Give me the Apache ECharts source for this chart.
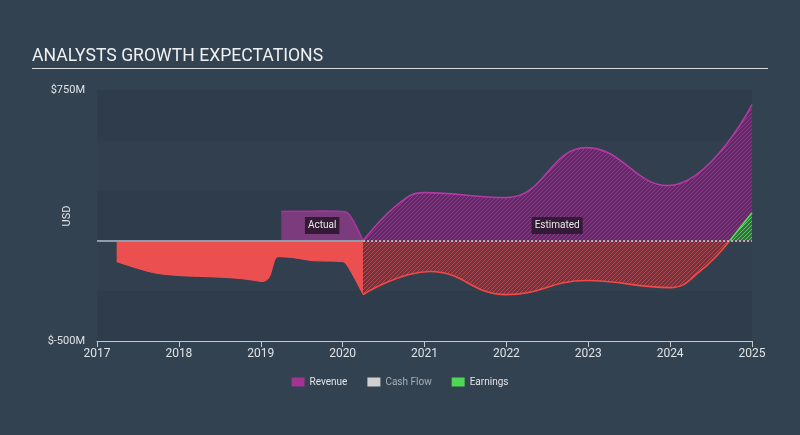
<!DOCTYPE html>
<html>
<head>
<meta charset="utf-8">
<script src="https://cdn.jsdelivr.net/npm/echarts@6/dist/echarts.min.js"></script>
<style>
html,body{margin:0;padding:0;background:#334251;}
#c{width:800px;height:435px;}
</style>
</head>
<body>
<div id="c"></div>
<script>
// ---- data (values in $M, x in fractional years) ----
const xTicks = [2017, 2025];
const yTicks = [-500, 750];
const revenueActual = [[2019.25,145],[2019.5,146],[2019.75,147],[2020.0,145],[2020.06,138],[2020.13,100],[2020.25,0]];
const revenueEstimate = [[2020.25,0],[2020.7,189],[2021.0,239],[2022.0,214],[2022.98,463],[2023.97,274],[2025.0,677]];
const earningsActual = [[2017.24,-105],[2017.68,-159],[2018.0,-174],[2018.5,-182],[2018.75,-189],[2018.92,-198],[2019.02,-204],[2019.1,-185],[2019.21,-80],[2019.4,-85],[2019.64,-100],[2020.0,-105],[2020.08,-140],[2020.25,-269]];
const earningsEstimate = [[2020.25,-269],[2021.07,-154],[2022.0,-269],[2022.98,-199],[2024.0,-234],[2024.36,-155],[2024.73,0]];
const earningsPositive = [[2024.73,0],[2025.0,139]];
const labels = [{text:'Actual', at:[2019.75,75]},{text:'Estimated', at:[2022.62,75]}];
const estStart = 2020.25;

function hatch(bg, fg){
  const c = document.createElement('canvas');
  c.width = 4; c.height = 4;
  const ctx = c.getContext('2d');
  const img = ctx.createImageData(4,4);
  const p = h => [parseInt(h.substr(1,2),16),parseInt(h.substr(3,2),16),parseInt(h.substr(5,2),16)];
  const b = p(bg), f = p(fg);
  for(let y=0;y<4;y++)for(let x=0;x<4;x++){
    const col = ((x+y)%4===0)?f:b;
    const i=(y*4+x)*4;
    img.data[i]=col[0];img.data[i+1]=col[1];img.data[i+2]=col[2];img.data[i+3]=255;
  }
  ctx.putImageData(img,0,0);
  return {image:c, repeat:'repeat'};
}

const chart = echarts.init(document.getElementById('c'), null, {renderer:'canvas'});
const font = 'Roboto, "Open Sans", sans-serif';
chart.setOption({
  animation:false,
  backgroundColor:'#334251',
  textStyle:{fontFamily:font},
  graphic:[
    {type:'text', left:32, top:48, style:{text:'ANALYSTS GROWTH EXPECTATIONS', fill:'#eef0f2', font:'17.6px '+font}},
    {type:'line', shape:{x1:32,y1:68.5,x2:768,y2:68.5}, style:{stroke:'#d6d9dc', lineWidth:1}},
    {type:'text', x:62, y:216, rotation:Math.PI/2, style:{text:'USD', fill:'#e0e3e6', font:'11px '+font, align:'center', verticalAlign:'top'}}
  ],
  grid:{left:97, right:48, top:90, bottom:94},
  legend:{
    bottom:43, left:'center', itemWidth:13, itemHeight:9, itemGap:20, icon:'rect',
    textStyle:{color:'#e0e3e6', fontSize:10, fontFamily:font},
    data:[
      {name:'Revenue', itemStyle:{color:'#a43393'}},
      {name:'Cash Flow', itemStyle:{color:'#d0d0d0'}, textStyle:{color:'#a8afb6'}},
      {name:'Earnings', itemStyle:{color:'#4fd853'}}
    ]
  },
  xAxis:{
    type:'value', min:xTicks[0], max:xTicks[1], interval:1,
    axisLine:{onZero:false, lineStyle:{color:'#c3c8ce', width:1}},
    axisTick:{show:true, length:6, lineStyle:{color:'#c3c8ce'}},
    axisLabel:{color:'#e0e3e6', fontSize:12, margin:7, formatter:v=>String(v)},
    splitLine:{show:false}
  },
  yAxis:{
    type:'value', min:yTicks[0], max:yTicks[1], interval:250,
    axisLine:{show:false}, axisTick:{show:false},
    axisLabel:{color:'#e0e3e6', fontSize:11, margin:12, formatter:v=> (v===yTicks[0]||v===yTicks[1]) ? '$'+v+'M' : ''},
    splitLine:{show:false},
    splitArea:{show:true, areaStyle:{color:['#2f3c4b','#323f4e']}}
  },
  series:[
    {name:'Earnings', type:'line', data:earningsActual, smooth:0.3, symbol:'none',
     lineStyle:{color:'#f25252', width:1}, areaStyle:{color:'#ec4f4f', opacity:1}, z:2,
     markLine:{silent:true, symbol:'none', label:{show:false},
       data:[
         [{coord:[xTicks[0],0], lineStyle:{color:'#8e9cad', width:2, type:'solid'}},{coord:[estStart,0]}],
         [{coord:[estStart,0], lineStyle:{color:'#c9aabd', width:2, type:[2,2]}},{coord:[xTicks[1],0]}]
       ]}},
    {name:'Earnings', type:'line', data:earningsEstimate, smooth:0.45, symbol:'none',
     lineStyle:{color:'#f24848', width:1.6}, areaStyle:{color:hatch('#5f3a48','#c24449'), opacity:1}, z:2},
    {name:'Revenue', type:'line', data:revenueActual, smooth:0.3, symbol:'none',
     lineStyle:{color:'#a8359c', width:1.5}, areaStyle:{color:'#7c3b7c', opacity:1}, z:3,
     markPoint:{silent:true, symbol:'rect', symbolSize:0,
       data: labels.map(l=>({coord:l.at, value:l.text})),
       label:{show:true, formatter:p=>p.value, color:'#e8e8ec', fontSize:10, backgroundColor:'#341b35', padding:[4,3,3,3], position:'inside'}}},
    {name:'Revenue', type:'line', data:revenueEstimate, smooth:0.45, symbol:'none',
     lineStyle:{color:'#b23aa2', width:1.6}, areaStyle:{color:hatch('#56305f','#93378f'), opacity:1}, z:3},
    {name:'Cash Flow', type:'line', data:[], symbol:'none', lineStyle:{color:'#d0d0d0'}},
    {name:'Earnings', type:'line', data:earningsPositive, smooth:false, symbol:'none',
     lineStyle:{color:'#55dd55', width:1.6}, areaStyle:{color:hatch('#41684d','#55c85e'), opacity:1}, z:4}
  ]
});
</script>
</body>
</html>
